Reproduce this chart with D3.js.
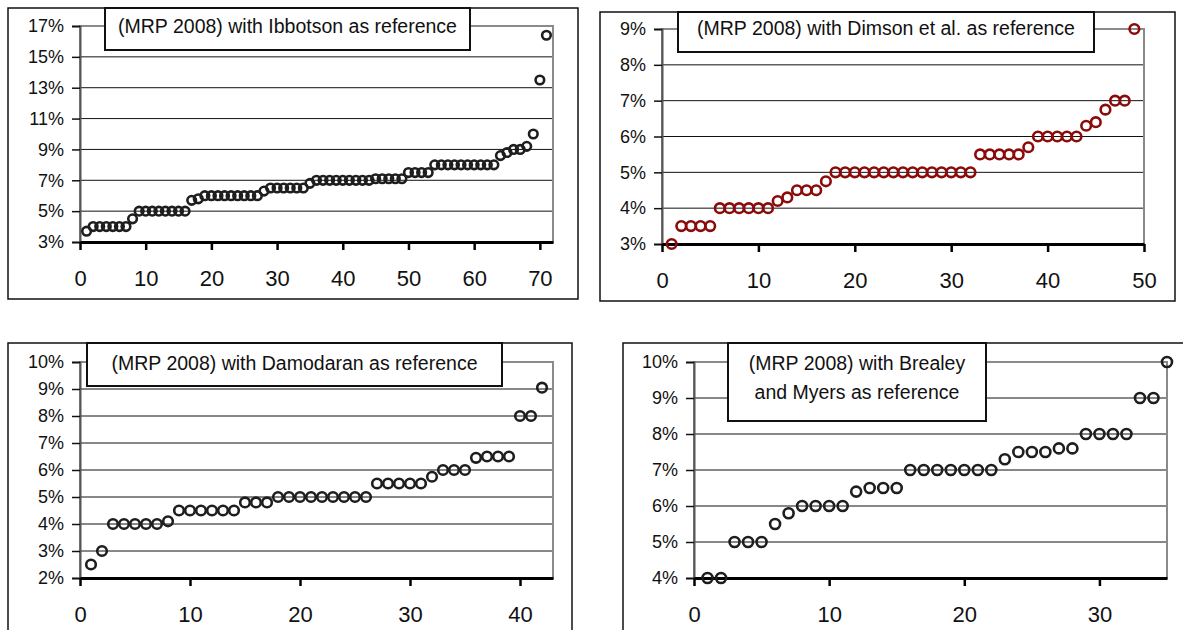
<!DOCTYPE html>
<html><head><meta charset="utf-8">
<script src="https://cdn.jsdelivr.net/npm/d3@7"></script>
<style>
body{margin:0;background:#fff}
svg{display:block}
text{font-family:"Liberation Sans",Arial,sans-serif;fill:#111}
.xl{font-family:"Liberation Sans Narrow","Arial Narrow","Liberation Sans",sans-serif}
</style>
</head><body>
<svg id="c" width="1183" height="630"></svg>
<script>
// ---- data ----
const ibbotson = [3.7, 4,4,4,4,4,4, 4.5, 5,5,5,5,5,5,5,5, 5.7,5.8, 6,6,6,6,6,6,6,6,6, 6.3,
  6.5,6.5,6.5,6.5,6.5,6.5, 6.8, 7,7,7,7,7,7,7,7,7, 7.1,7.1,7.1,7.1,7.1, 7.5,7.5,7.5,7.5,
  8,8,8,8,8,8,8,8,8,8, 8.6,8.8,9.0,9.0,9.2, 10.0, 13.5, 16.4];
const dimson = [3.0, 3.5,3.5,3.5,3.5, 4,4,4,4,4,4, 4.2,4.3, 4.5,4.5,4.5, 4.75,
  5,5,5,5,5,5,5,5,5,5,5,5,5,5,5, 5.5,5.5,5.5,5.5,5.5, 5.7, 6,6,6,6,6, 6.3,6.4,6.75, 7,7, 9];
const damodaran = [2.5, 3.0, 4,4,4,4,4, 4.1, 4.5,4.5,4.5,4.5,4.5,4.5, 4.8,4.8,4.8,
  5,5,5,5,5,5,5,5,5, 5.5,5.5,5.5,5.5,5.5, 5.75, 6,6,6, 6.45,6.5,6.5,6.5, 8,8, 9.05];
const brealeyMyers = [4,4, 5,5,5, 5.5, 5.8, 6,6,6,6, 6.4, 6.5,6.5,6.5, 7,7,7,7,7,7,7, 7.3,
  7.5,7.5,7.5, 7.6,7.6, 8,8,8,8, 9,9, 10];

const titles = [
  ["(MRP 2008) with Ibbotson as reference"],
  ["(MRP 2008) with Dimson et al. as reference"],
  ["(MRP 2008) with Damodaran as reference"],
  ["(MRP 2008) with Brealey", "and Myers as reference"]
];
const yTicks = [
  [3,5,7,9,11,13,15,17],
  [3,4,5,6,7,8,9],
  [2,3,4,5,6,7,8,9,10],
  [4,5,6,7,8,9,10]
];
const xTicks = [
  [0,10,20,30,40,50,60,70],
  [0,10,20,30,40,50],
  [0,10,20,30,40],
  [0,10,20,30]
];
const xMax = [72, 50, 43, 35];
const seriesList = [ibbotson, dimson, damodaran, brealeyMyers];

// ---- layout / style ----
const layout = [
  {box:[8,8,578,299],    plot:[80,26,553,242],   tbox:[105,8,470,50],   tbase:[33],      color:"#1e1e1e", r:4.3},
  {box:[600,12,1175,301],plot:[662,29,1144,244], tbox:[678,12,1094,52], tbase:[35],      color:"#8b0a0a", r:4.8},
  {box:[8,343,572,660],  plot:[80,362,553,578],  tbox:[87,343,502,386], tbase:[370],     color:"#1e1e1e", r:4.8},
  {box:[623,343,1200,660],plot:[694,362,1167,578],tbox:[728,343,986,421],tbase:[370,399],color:"#1e1e1e", r:5}
];

const svg = d3.select("#c");

layout.forEach((L, k) => {
  const data = seriesList[k];
  const [px0, py0, px1, py1] = L.plot;
  const x = d3.scaleLinear().domain([0, xMax[k]]).range([px0, px1]);
  const yt = yTicks[k];
  const y = d3.scaleLinear().domain([yt[0], yt[yt.length-1]]).range([py1, py0]);
  const g = svg.append("g");

  // outer chart border
  g.append("rect").attr("x", L.box[0]).attr("y", L.box[1])
    .attr("width", L.box[2]-L.box[0]).attr("height", L.box[3]-L.box[1])
    .attr("fill", "#fff").attr("stroke", "#111").attr("stroke-width", 1.5);

  // gridlines
  g.append("g").selectAll("line").data(yt.slice(1, -1)).join("line")
    .attr("x1", px0).attr("x2", px1)
    .attr("y1", d => y(d)).attr("y2", d => y(d))
    .attr("stroke", "#111").attr("stroke-width", 1);

  // plot area border (top/right gray)
  g.append("rect").attr("x", px0).attr("y", py0)
    .attr("width", px1-px0).attr("height", py1-py0)
    .attr("fill", "none").attr("stroke", "#8a8a8a").attr("stroke-width", 2);

  // y axis
  const yAxis = d3.axisLeft(y).tickValues(yt).tickSize(8).tickPadding(8)
    .tickFormat(d => d + "%");
  const ya = g.append("g").attr("transform", `translate(${px0},0)`).call(yAxis);
  ya.select(".domain").attr("stroke", "#555").attr("stroke-width", 2);
  ya.selectAll(".tick line").attr("stroke", "#111").attr("stroke-width", 1.5);
  ya.selectAll(".tick text").attr("font-size", 18).attr("fill", "#111")
    .attr("font-family", "Liberation Sans, Arial, sans-serif");

  // x axis
  const xAxis = d3.axisBottom(x).tickValues(xTicks[k]).tickSize(8).tickSizeOuter(0).tickPadding(20);
  const xa = g.append("g").attr("transform", `translate(0,${py1})`).call(xAxis);
  xa.select(".domain").attr("stroke", "#000").attr("stroke-width", 3);
  xa.selectAll(".tick line").attr("stroke", "#000").attr("stroke-width", 2.5);
  xa.selectAll(".tick text").attr("class", "xl").attr("font-size", 22).attr("fill", "#111")
    .attr("font-family", null);

  // points
  g.append("g").selectAll("circle").data(data).join("circle")
    .attr("cx", (d, i) => x(i + 1)).attr("cy", d => y(d)).attr("r", L.r)
    .attr("fill", "none").attr("stroke", L.color).attr("stroke-width", 2.6);

  // title box
  const [tx0, ty0, tx1, ty1] = L.tbox;
  g.append("rect").attr("x", tx0).attr("y", ty0).attr("width", tx1-tx0).attr("height", ty1-ty0)
    .attr("fill", "#fff").attr("stroke", "#111").attr("stroke-width", 2);
  titles[k].forEach((t, j) => {
    g.append("text").attr("x", (tx0+tx1)/2).attr("y", L.tbase[j])
      .attr("text-anchor", "middle").attr("font-size", 19.5).text(t);
  });
});
</script>
</body></html>
